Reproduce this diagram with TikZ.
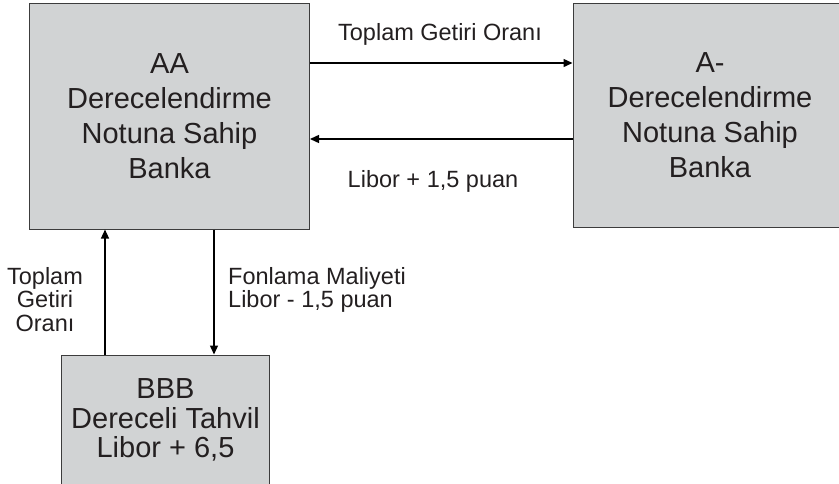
\documentclass[tikz,border=0pt]{standalone}
\usepackage{fontspec}
\setmainfont{Liberation Sans}
\usetikzlibrary{arrows.meta}
\definecolor{boxgray}{HTML}{D1D3D4}
\definecolor{edgegray}{HTML}{3C3C3C}
\definecolor{ink}{HTML}{231F20}

\begin{document}
\begin{tikzpicture}[x=1pt,y=-1pt,
	bank/.style={draw=edgegray,line width=1pt,fill=boxgray,text=ink,align=center,inner sep=0pt,font=\fontsize{29}{35}\selectfont},
	flow/.style={line width=1.4pt,-{Triangle[length=9pt,width=8pt]}},
	lbl/.style={inner sep=0pt,text=ink,font=\fontsize{23.5}{23.5}\selectfont}]
	\path[use as bounding box,clip](0,0) rectangle (839,483);
	% banks
	\node[bank,minimum width=280pt,minimum height=225.5pt](aa) at (169.5,116.3){AA\\Derecelendirme\\Notuna Sahip\\Banka};
	\node[bank,minimum width=274pt,minimum height=224.4pt](am) at (710,115.5){A-\\Derecelendirme\\Notuna Sahip\\Banka};
	\node[bank,font=\fontsize{29}{29.5}\selectfont,minimum width=207.6pt,minimum height=130pt](bbb) at (165.5,420){BBB\\Dereceli Tahvil\\Libor + 6,5};
	% flows
	\draw[flow]([yshift=53.3pt]aa.east) -- ([yshift=53.3pt]aa.east -| am.west);
	\draw[flow]([yshift=-23.5pt]am.west) -- ([yshift=-23.5pt]am.west -| aa.east);
	\draw[flow]([xshift=-60.5pt]bbb.north) -- ([xshift=-60.5pt]bbb.north |- aa.south);
	\draw[flow]([xshift=48.5pt]bbb.north |- aa.south) -- ([xshift=48.5pt]bbb.north);
	% labels
	\node[lbl,anchor=base](top) at (440,40){Toplam Getiri Oranı};
	\node[lbl,anchor=base](back) at (433,187){Libor + 1,5 puan};
	\node[lbl,anchor=north,align=center](ret) at (45,267){Toplam\\Getiri\\Oranı};
	\node[lbl,anchor=north west,align=left](cost) at (228,267){Fonlama Maliyeti\\Libor - 1,5 puan};
\end{tikzpicture}
\end{document}
